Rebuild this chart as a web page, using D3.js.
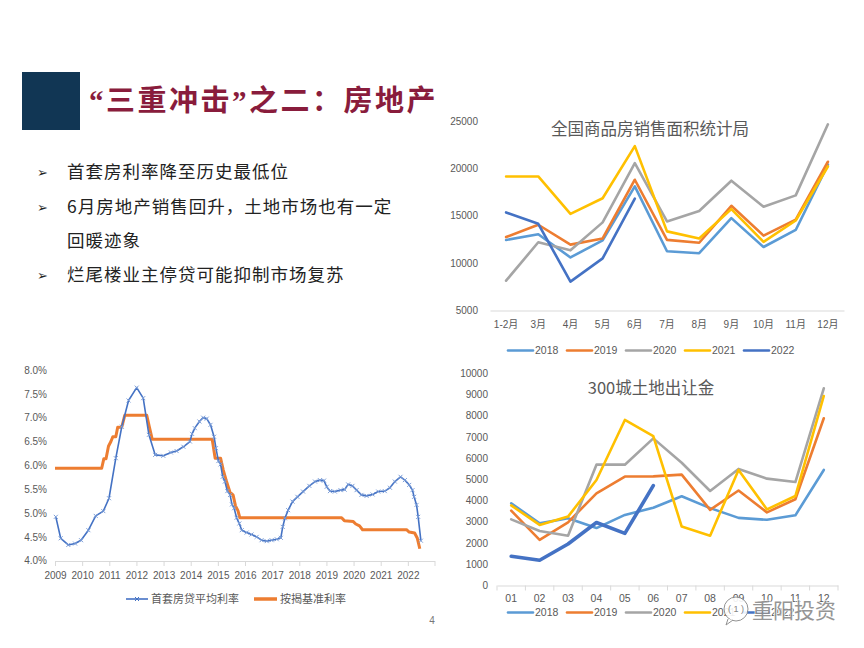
<!DOCTYPE html>
<html><head><meta charset="utf-8">
<script src="https://cdn.jsdelivr.net/npm/d3@7"></script>
<style>
html,body{margin:0;padding:0;background:#fff;}
svg{display:block;}
text{font-family:"Liberation Sans","Noto Sans CJK SC",sans-serif;}
</style></head>
<body>
<svg id="c" width="864" height="648"></svg>
<script>
// ---------- DATA ----------
const titleParts = ["“","三重冲击","”","之二：房地产"];
const bullets = ["首套房利率降至历史最低位", "6月房地产销售回升，土地市场也有一定", "回暖迹象", "烂尾楼业主停贷可能抑制市场复苏"];
const bulletHasArrow = [true, true, false, true];

// Chart A: 全国商品房销售面积 (万平方米)
const monthsA = ["1-2月","3月","4月","5月","6月","7月","8月","9月","10月","11月","12月"];
const salesYears = ["2018","2019","2020","2021","2022"];
const sales2018 = [12450,13050,10600,12400,18100,11250,11050,14750,11700,13500,20400];
const sales2019 = [12750,14050,11950,12600,18800,12450,12150,16050,12900,14600,20700];
const sales2020 = [8150,12200,11350,14300,20550,14400,15500,18700,15950,17150,24650];
const sales2021 = [19150,19150,15200,16850,22350,13350,12600,15700,12250,14500,20200];
const sales2022 = [15350,14150,8050,10500,16800];
const ticksA = [5000,10000,15000,20000,25000];

// Chart B: 300城土地出让金
const monthsB = ["01","02","03","04","05","06","07","08","09","10","11","12"];
const land2018 = [3870,2920,3160,2700,3320,3660,4200,3640,3180,3090,3300,5440];
const land2019 = [3520,2140,2970,4340,5130,5140,5220,3560,4470,3440,4060,7880];
const land2020 = [3110,2560,2340,5690,5690,6930,5780,4450,5490,5030,4870,9290];
const land2021 = [3770,2850,3240,4970,7800,7040,2770,2340,5440,3580,4210,8930];
const land2022 = [1370,1180,1950,2960,2450,4700];
const ticksB = [0,1000,2000,3000,4000,5000,6000,7000,8000,9000,10000];

// Chart C: 利率 (%)
const yearsC = [2009,2010,2011,2012,2013,2014,2015,2016,2017,2018,2019,2020,2021,2022];
const ticksC = [4.0,4.5,5.0,5.5,6.0,6.5,7.0,7.5,8.0];
const firstHomeRate = [
[2009.03,4.92],[2009.21,4.47],[2009.49,4.33],[2009.74,4.36],[2009.96,4.43],[2010.23,4.64],[2010.5,4.94],[2010.78,5.04],
[2010.99,5.31],[2011.24,6.15],[2011.46,6.81],[2011.71,7.36],[2012.01,7.63],[2012.25,7.41],[2012.46,6.64],[2012.69,6.22],
[2012.99,6.20],[2013.27,6.27],[2013.48,6.30],[2013.73,6.39],[2013.97,6.50],[2014.05,6.66],[2014.15,6.78],[2014.32,6.92],
[2014.46,7.00],[2014.59,6.98],[2014.73,6.85],[2014.86,6.60],[2014.93,6.36],[2015.02,6.09],[2015.10,6.02],[2015.18,5.76],
[2015.26,5.66],[2015.35,5.46],[2015.45,5.38],[2015.52,5.18],[2015.60,5.10],[2015.69,4.90],[2015.79,4.78],[2015.88,4.64],
[2016.06,4.59],[2016.24,4.55],[2016.43,4.50],[2016.61,4.43],[2016.80,4.41],[2016.98,4.43],[2017.17,4.45],[2017.32,4.48],
[2017.39,4.71],[2017.47,4.89],[2017.59,5.06],[2017.75,5.24],[2017.93,5.34],[2018.14,5.45],[2018.37,5.57],[2018.58,5.66],
[2018.76,5.69],[2018.91,5.68],[2019.01,5.55],[2019.13,5.46],[2019.31,5.45],[2019.52,5.48],[2019.67,5.49],[2019.80,5.60],
[2019.96,5.57],[2020.11,5.48],[2020.29,5.38],[2020.48,5.36],[2020.70,5.39],[2020.91,5.45],[2021.15,5.46],[2021.34,5.53],
[2021.52,5.66],[2021.73,5.76],[2021.89,5.69],[2022.05,5.59],[2022.17,5.48],[2022.23,5.34],[2022.32,5.17],[2022.38,4.92],
[2022.48,4.42]];
const benchmarkRate = [
[2009.0,5.94],[2010.72,5.94],[2010.80,6.14],[2010.88,6.14],[2010.97,6.40],[2011.06,6.50],[2011.13,6.60],[2011.24,6.60],
[2011.31,6.80],[2011.46,6.80],[2011.57,7.05],[2012.38,7.05],[2012.48,6.80],[2012.58,6.55],[2014.79,6.55],[2014.90,6.15],
[2015.10,6.15],[2015.20,5.90],[2015.32,5.66],[2015.45,5.43],[2015.56,5.38],[2015.65,5.15],[2015.74,5.05],[2015.81,4.90],
[2019.56,4.90],[2019.66,4.84],[2019.99,4.82],[2020.08,4.77],[2020.22,4.73],[2020.33,4.65],[2021.95,4.65],[2022.05,4.60],
[2022.25,4.58],[2022.35,4.47],[2022.44,4.25]];
const rateNames = ["首套房贷平均利率","按揭基准利率"];

const colors = ["#5b9bd5","#ed7d31","#a5a5a5","#ffc000","#4472c4"];
const gray = "#595959";

// ---------- DRAW ----------
const svg = d3.select("#c");

// header
svg.append("rect").attr("x",22).attr("y",72).attr("width",58).attr("height",58).attr("fill","#113654");
const tt = svg.append("text").attr("x",89).attr("y",111).attr("fill","#891c3c")
  .style("font-family","'Noto Sans CJK SC',sans-serif").style("font-weight",700).style("font-size","29px")
  .style("letter-spacing","2.5px");
titleParts.forEach((p,i)=>{
  const ts = tt.append("tspan").text(p);
  if (i%2===0) ts.style("font-family","'Liberation Serif',serif");
});

const by = [178, 213, 247, 281];
bullets.forEach((b,i)=>{
  if (bulletHasArrow[i]) svg.append("text").attr("x",37).attr("y",by[i]-1).attr("fill","#222")
    .style("font-family","'DejaVu Sans',sans-serif").style("font-size","13px").text("➢");
  svg.append("text").attr("x",67).attr("y",by[i]).attr("fill","#222")
    .style("font-family","'Noto Sans CJK SC',sans-serif").style("font-size","17.5px").style("letter-spacing","1px")
    .text(b);
});

// ---------- Chart A ----------
const xA = d3.scaleBand().domain(monthsA).range([490,844]);
const yA = d3.scaleLinear().domain([5000,25000]).range([310.5,121]);
const gAy = svg.append("g").attr("transform","translate(490,0)")
  .call(d3.axisLeft(yA).tickValues(ticksA).tickSize(0).tickPadding(12).tickFormat(d3.format("d")));
gAy.select(".domain").remove();
gAy.selectAll("text").attr("fill",gray).style("font-size","10px");
const gAx = svg.append("g").attr("transform","translate(0,310.5)")
  .call(d3.axisBottom(xA).tickSize(0).tickPadding(10));
gAx.select(".domain").attr("stroke","#d9d9d9");
gAx.selectAll("text").attr("fill",gray).style("font-size","10px");
svg.append("text").attr("x",650).attr("y",135).attr("text-anchor","middle").attr("fill",gray)
  .style("font-family","'Noto Sans CJK SC',sans-serif").style("font-size","16.5px").text("全国商品房销售面积统计局");
const lineA = d3.line().x((d,i)=>xA(monthsA[i])+xA.bandwidth()/2).y(d=>yA(d));
[sales2018,sales2019,sales2020,sales2021,sales2022].forEach((s,k)=>{
  svg.append("path").attr("d",lineA(s)).attr("fill","none").attr("stroke",colors[k])
    .attr("stroke-width",2.6).attr("stroke-linejoin","round").attr("stroke-linecap","round");
});
function legend(y){
  salesYears.forEach((n,k)=>{
    const x0 = 508 + k*59;
    svg.append("line").attr("x1",x0).attr("x2",x0+25).attr("y1",y).attr("y2",y)
      .attr("stroke",colors[k]).attr("stroke-width",2.6).attr("stroke-linecap","round");
    svg.append("text").attr("x",x0+27).attr("y",y+3.8).attr("fill",gray).style("font-size","10.5px").text(n);
  });
}
legend(350.5);

// ---------- Chart B ----------
const xB = d3.scaleBand().domain(monthsB).range([497,838]);
const yB = d3.scaleLinear().domain([0,10000]).range([585.3,373.3]);
const gBy = svg.append("g").attr("transform","translate(497,0)")
  .call(d3.axisLeft(yB).tickValues(ticksB).tickSize(0).tickPadding(9).tickFormat(d3.format("d")));
gBy.select(".domain").remove();
gBy.selectAll("text").attr("fill",gray).style("font-size","10px");
const gBx = svg.append("g").attr("transform","translate(0,585.5)")
  .call(d3.axisBottom(xB).tickSize(0).tickPadding(9));
gBx.select(".domain").attr("stroke","#d9d9d9");
gBx.selectAll("text").attr("fill",gray).style("font-size","10.5px");
monthsB.concat([null]).forEach((m,i)=>{
  const x = m ? xB(m) : xB.range()[1];
  svg.append("line").attr("x1",x).attr("x2",x).attr("y1",585.5).attr("y2",590.5).attr("stroke","#d9d9d9");
});
svg.append("text").attr("x",651).attr("y",394).attr("text-anchor","middle").attr("fill",gray)
  .style("font-family","'Noto Sans CJK SC',sans-serif").style("font-size","16.5px").text("300城土地出让金");
const lineB = d3.line().x((d,i)=>xB(monthsB[i])+xB.bandwidth()/2).y(d=>yB(d));
[land2018,land2019,land2020,land2021,land2022].forEach((s,k)=>{
  svg.append("path").attr("d",lineB(s)).attr("fill","none").attr("stroke",colors[k])
    .attr("stroke-width",k===4?3.6:2.6).attr("stroke-linejoin","round").attr("stroke-linecap","round");
});
legend(612.5);

// ---------- Chart C ----------
const xC = d3.scaleLinear().domain([2009,2023]).range([55,435]);
const yC = d3.scaleLinear().domain([4.0,8.0]).range([560.7,370]);
const gCy = svg.append("g").attr("transform","translate(55,0)")
  .call(d3.axisLeft(yC).tickValues(ticksC).tickSize(0).tickPadding(8).tickFormat(d=>d.toFixed(1)+"%"));
gCy.select(".domain").remove();
gCy.selectAll("text").attr("fill",gray).style("font-size","10px");
const gCx = svg.append("g").attr("transform","translate(0,561)")
  .call(d3.axisBottom(xC).tickValues(yearsC).tickSize(5).tickPadding(6).tickFormat(d3.format("d")));
gCx.select(".domain").attr("stroke","#d9d9d9").attr("d","M55.5,0.5H435");
gCx.selectAll(".tick line").attr("stroke","#d9d9d9");
gCx.selectAll("text").attr("fill",gray).style("font-size","10px");
svg.append("line").attr("x1",435).attr("x2",435).attr("y1",561).attr("y2",566).attr("stroke","#d9d9d9");

const lineC = d3.line().x(d=>xC(d[0])).y(d=>yC(d[1]));
svg.append("path").attr("d",lineC(benchmarkRate)).attr("fill","none").attr("stroke","#ed7d31")
  .attr("stroke-width",3).attr("stroke-linejoin","round");
svg.append("path").attr("d",lineC(firstHomeRate)).attr("fill","none").attr("stroke","#4472c4")
  .attr("stroke-width",1.6).attr("stroke-linejoin","round");
const cross = "M-2,-2L2,2M-2,2L2,-2";
svg.append("g").selectAll("path").data(firstHomeRate).join("path")
  .attr("transform",d=>`translate(${xC(d[0])},${yC(d[1])})`).attr("d",cross)
  .attr("stroke","#7c9ed8").attr("stroke-width",1).attr("fill","none");
// legend C
svg.append("line").attr("x1",126).attr("x2",148).attr("y1",599).attr("y2",599).attr("stroke","#4472c4").attr("stroke-width",1.6);
svg.append("path").attr("transform","translate(137,599)").attr("d",cross).attr("stroke","#4472c4").attr("stroke-width",1);
svg.append("text").attr("x",151).attr("y",603).attr("fill",gray)
  .style("font-family","'Noto Sans CJK SC',sans-serif").style("font-size","11px").text(rateNames[0]);
svg.append("line").attr("x1",254).attr("x2",277).attr("y1",599).attr("y2",599).attr("stroke","#ed7d31").attr("stroke-width",3.5);
svg.append("text").attr("x",280).attr("y",603).attr("fill",gray)
  .style("font-family","'Noto Sans CJK SC',sans-serif").style("font-size","11px").text(rateNames[1]);

// page number
svg.append("text").attr("x",432).attr("y",624).attr("text-anchor","middle").attr("fill","#777").style("font-size","10px").text("4");

// watermark
const wm = svg.append("g").attr("opacity",0.9);
wm.append("circle").attr("cx",736).attr("cy",609).attr("r",12).attr("fill","#fff").attr("stroke","#888").attr("stroke-width",1);
wm.append("path").attr("d","M728,619 L726,625 L733,620").attr("fill","#fff").attr("stroke","#888").attr("stroke-width",1);
wm.append("text").attr("x",736).attr("y",612).attr("text-anchor","middle").attr("fill","#777").style("font-size","9px").text("( 1 )");
wm.append("text").attr("x",752).attr("y",618).attr("fill","#8a8a8a").attr("stroke","#fff").attr("stroke-width",1.5)
  .attr("paint-order","stroke")
  .style("font-family","'Noto Sans CJK SC',sans-serif").style("font-size","21px").text("重阳投资");
</script>
</body></html>
